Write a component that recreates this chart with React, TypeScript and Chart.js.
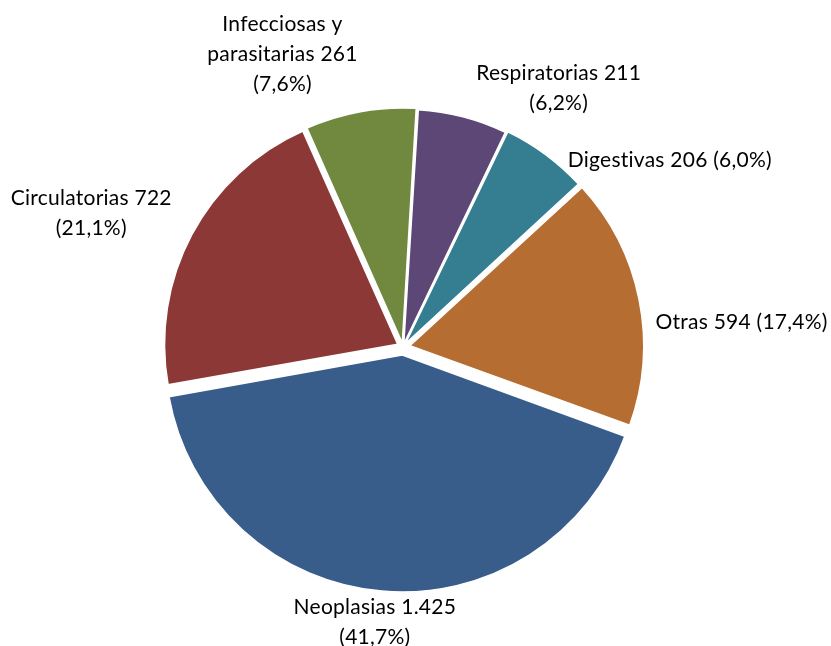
import React, { useEffect, useRef } from "react";
import { Chart, registerables } from "chart.js";

Chart.register(...registerables);

// ---- data ----
const categories = [
  "Infecciosas y\nparasitarias",
  "Respiratorias",
  "Digestivas",
  "Otras",
  "Neoplasias",
  "Circulatorias",
];
const values = [261, 211, 206, 594, 1425, 722];
const colors = ["#71893F", "#5C4776", "#357D91", "#B66D31", "#385D8A", "#8C3836"];
// whether the percentage goes on its own line
const pctOnNewLine = [true, true, false, false, true, true];

// ---- style / layout (not data) ----
const explode = [4, 3, 4, 7, 8, 6]; // px displacement of each slice
const labelAlign: ("center" | "left")[] = ["center", "center", "left", "left", "center", "center"];
const labelNudge = [
  [-79, -63],
  [97, -33],
  [26, 0],
  [24, 21],
  [-8, 43],
  [-106, -24],
];

const total = values.reduce((a, b) => a + b, 0);
const fmtInt = (v: number) => String(v).replace(/\B(?=(\d{3})+(?!\d))/g, ".");
const fmtPct = (v: number) => ((v / total) * 100).toFixed(1).replace(".", ",") + "%";

function labelLines(i: number): string[] {
  const head = `${categories[i]} ${fmtInt(values[i])}`;
  const pct = `(${fmtPct(values[i])})`;
  const text = pctOnNewLine[i] ? `${head}\n${pct}` : `${head} ${pct}`;
  return text.split("\n");
}

const FONT = "21px Lato";
const LINE_H = 30;

const outsideLabels = {
  id: "outsideLabels",
  afterDatasetsDraw(chart: any) {
    const ctx = chart.ctx as CanvasRenderingContext2D;
    const meta = chart.getDatasetMeta(0);
    ctx.save();
    ctx.font = FONT;
    (ctx as any).letterSpacing = "0.25px";
    ctx.fillStyle = "#000";
    ctx.textBaseline = "middle";
    meta.data.forEach((arc: any, i: number) => {
      const mid = (arc.startAngle + arc.endAngle) / 2;
      const r = arc.outerRadius;
      const ax = arc.x + Math.cos(mid) * r;
      const ay = arc.y + Math.sin(mid) * r;
      const lines = labelLines(i);
      const bx = ax + labelNudge[i][0];
      const by = ay + labelNudge[i][1];
      ctx.textAlign = labelAlign[i];
      lines.forEach((ln, k) => {
        ctx.fillText(ln, bx, by + (k - (lines.length - 1) / 2) * LINE_H);
      });
    });
    ctx.restore();
  },
};

export default function App() {
  const ref = useRef<HTMLCanvasElement | null>(null);
  useEffect(() => {
    if (!ref.current) return;
    const chart = new Chart(ref.current, {
      type: "pie",
      data: {
        labels: categories.map((c) => c.replace("\n", " ")),
        datasets: [
          {
            data: values,
            backgroundColor: colors,
            borderColor: "#ffffff",
            borderWidth: 1.5,
            offset: explode.map((e) => e * 4),
          },
        ],
      },
      options: {
        responsive: false,
        animation: false,
        rotation: -24,
        radius: 233,
        layout: { padding: { left: 0, right: 25, top: 48, bottom: 0 } },
        plugins: {
          legend: { display: false },
          tooltip: { enabled: false },
        },
      },
      plugins: [outsideLabels],
    });
    return () => chart.destroy();
  }, []);
  return (
    <div style={{ position: "fixed", left: 0, top: 0, width: 831, height: 646, background: "#fff" }}>
      <canvas ref={ref} width={831} height={646} />
    </div>
  );
}
